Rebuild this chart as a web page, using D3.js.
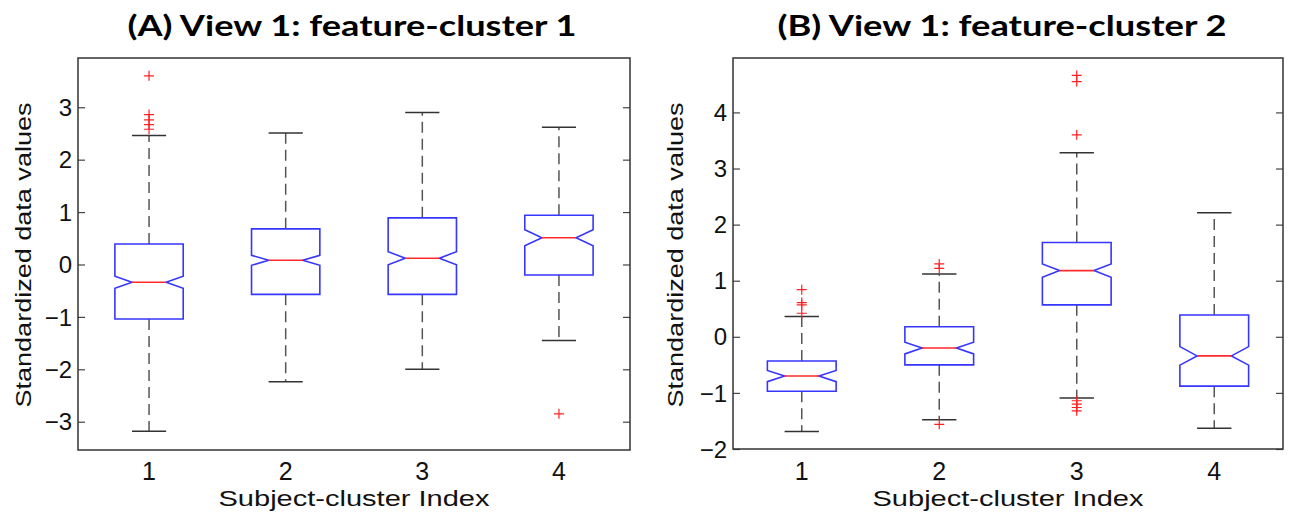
<!DOCTYPE html>
<html>
<head>
<meta charset="utf-8">
<script src="https://cdn.jsdelivr.net/npm/d3@7"></script>
<style>
  html, body { margin: 0; padding: 0; background: #fff; }
  svg { display: block; }
</style>
</head>
<body>
<svg id="chart" width="1290" height="517"></svg>
<script>
// Subject-cluster indices shared by both panels
const clusters = [1, 2, 3, 4];
const yTicksA = [-3, -2, -1, 0, 1, 2, 3];
const yTicksB = [-2, -1, 0, 1, 2, 3, 4];

// Panel A — feature-cluster 1 summary statistics
const lowerWhiskerA = [-3.18, -2.24, -2.00, -1.45];
const q1A = [-1.04, -0.57, -0.57, -0.20];
const medianA = [-0.34, 0.08, 0.12, 0.51];
const q3A = [0.39, 0.68, 0.89, 0.94];
const upperWhiskerA = [2.46, 2.51, 2.90, 2.62];
const notchA = [0.115, 0.095, 0.125, 0.155];
const outliersA = [[3.60, 2.86, 2.76, 2.67, 2.58], [], [], [-2.85]];

// Panel B — feature-cluster 2 summary statistics
const lowerWhiskerB = [-1.69, -1.48, -1.09, -1.63];
const q1B = [-0.97, -0.50, 0.57, -0.88];
const medianB = [-0.70, -0.20, 1.18, -0.34];
const q3B = [-0.43, 0.18, 1.68, 0.39];
const upperWhiskerB = [0.36, 1.12, 3.28, 2.21];
const notchB = [0.10, 0.105, 0.12, 0.165];
const outliersB = [[0.84, 0.61, 0.57, 0.42], [1.30, 1.22, -1.56], [4.66, 4.55, 3.60, -1.14, -1.20, -1.26, -1.32], []];

const titles = ["(A) View 1: feature-cluster 1", "(B) View 1: feature-cluster 2"];
const xLabel = "Subject-cluster Index";
const yLabel = "Standardized data values";

const svg = d3.select("#chart");
const TICK_FONT = "'Liberation Sans', Arial, sans-serif";

function buildRows(lo, q1, med, q3, hi, notch, outs) {
  return clusters.map((c, i) => ({
    c, lo: lo[i], q1: q1[i], med: med[i], q3: q3[i], hi: hi[i], notch: notch[i], outs: outs[i]
  }));
}

function drawPanel(p) {
  const g = svg.append("g");
  const x = d3.scaleLinear().domain(p.xDomain).range([p.left, p.right]);
  const y = d3.scaleLinear().domain(p.yDomain).range([p.bottom, p.top]);
  const halfW = 0.25;

  // y axes: labels on left, inward ticks on both sides
  const axL = d3.axisRight(y).tickValues(p.yTicks).tickSize(7).tickFormat("");
  g.append("g").attr("transform", `translate(${p.left},0)`).call(axL)
    .call(s => s.select(".domain").remove())
    .call(s => s.selectAll("line").attr("stroke", "#444").attr("stroke-width", 1.2));
  const axR = d3.axisLeft(y).tickValues(p.yTicks).tickSize(7).tickFormat("");
  g.append("g").attr("transform", `translate(${p.right},0)`).call(axR)
    .call(s => s.select(".domain").remove())
    .call(s => s.selectAll("line").attr("stroke", "#444").attr("stroke-width", 1.2));

  g.selectAll(".ytl").data(p.yTicks).join("text")
    .attr("x", p.left - 6).attr("y", d => y(d))
    .attr("dy", "0.36em").attr("text-anchor", "end")
    .attr("font-family", TICK_FONT).attr("font-size", 24).attr("fill", "#111")
    .text(d => d3.format("")(d));

  // x tick labels
  g.selectAll(".xtl").data(clusters).join("text")
    .attr("x", d => x(d)).attr("y", 480)
    .attr("text-anchor", "middle")
    .attr("font-family", TICK_FONT).attr("font-size", 25).attr("fill", "#111")
    .text(d => d);

  // frame
  g.append("rect").attr("x", p.left).attr("y", p.top)
    .attr("width", p.right - p.left).attr("height", p.bottom - p.top)
    .attr("fill", "none").attr("stroke", "#333").attr("stroke-width", 1.5);

  const boxes = g.selectAll(".box").data(p.rows).join("g");

  // dashed whiskers
  boxes.append("line")
    .attr("x1", d => x(d.c)).attr("x2", d => x(d.c))
    .attr("y1", d => y(d.q3)).attr("y2", d => y(d.hi))
    .attr("stroke", "#555").attr("stroke-width", 1.5).attr("stroke-dasharray", "11,6");
  boxes.append("line")
    .attr("x1", d => x(d.c)).attr("x2", d => x(d.c))
    .attr("y1", d => y(d.q1)).attr("y2", d => y(d.lo))
    .attr("stroke", "#555").attr("stroke-width", 1.5).attr("stroke-dasharray", "11,6");
  // whisker caps
  ["hi", "lo"].forEach(k => {
    boxes.append("line")
      .attr("x1", d => x(d.c - halfW / 2)).attr("x2", d => x(d.c + halfW / 2))
      .attr("y1", d => y(d[k])).attr("y2", d => y(d[k]))
      .attr("stroke", "#333").attr("stroke-width", 1.5);
  });

  // notched boxes
  boxes.append("path")
    .attr("d", d => {
      const l = x(d.c - halfW), r = x(d.c + halfW);
      const li = x(d.c - halfW / 2), ri = x(d.c + halfW / 2);
      const pts = [
        [l, y(d.q3)], [r, y(d.q3)], [r, y(d.med + d.notch)], [ri, y(d.med)],
        [r, y(d.med - d.notch)], [r, y(d.q1)], [l, y(d.q1)], [l, y(d.med - d.notch)],
        [li, y(d.med)], [l, y(d.med + d.notch)]
      ];
      return d3.line()(pts) + "Z";
    })
    .attr("fill", "none").attr("stroke", "#3636ff").attr("stroke-width", 1.6);

  // medians
  boxes.append("line")
    .attr("x1", d => x(d.c - halfW / 2)).attr("x2", d => x(d.c + halfW / 2))
    .attr("y1", d => y(d.med)).attr("y2", d => y(d.med))
    .attr("stroke", "#ff2a2a").attr("stroke-width", 1.6);

  // outliers as '+' markers
  const s = 5;
  boxes.selectAll(".out").data(d => d.outs.map(v => ({ c: d.c, v }))).join("path")
    .attr("d", o => {
      const cx = x(o.c), cy = y(o.v);
      return `M${cx - s},${cy}H${cx + s}M${cx},${cy - s}V${cy + s}`;
    })
    .attr("stroke", "#ff2020").attr("stroke-width", 1.2).attr("fill", "none");

  // titles and axis labels
  g.append("text").attr("x", p.titleX).attr("y", 36)
    .attr("text-anchor", "middle")
    .attr("font-family", "Lato, 'Open Sans', sans-serif").attr("font-weight", 700)
    .attr("font-size", 29).attr("fill", "#000")
    .attr("textLength", 449).attr("lengthAdjust", "spacingAndGlyphs")
    .text(p.title);

  g.append("text").attr("x", (p.left + p.right) / 2).attr("y", 506)
    .attr("text-anchor", "middle")
    .attr("font-family", TICK_FONT).attr("font-size", 22).attr("fill", "#111")
    .attr("textLength", 271).attr("lengthAdjust", "spacingAndGlyphs")
    .text(xLabel);

  g.append("text")
    .attr("transform", `translate(${p.yLabelX},255) rotate(-90)`)
    .attr("text-anchor", "middle")
    .attr("font-family", TICK_FONT).attr("font-size", 22).attr("fill", "#111")
    .attr("textLength", 305).attr("lengthAdjust", "spacingAndGlyphs")
    .text(yLabel);
}

drawPanel({
  left: 78, right: 630, top: 58, bottom: 450,
  xDomain: [0.48, 4.52], yDomain: [-3.54, 3.94], yTicks: yTicksA,
  rows: buildRows(lowerWhiskerA, q1A, medianA, q3A, upperWhiskerA, notchA, outliersA),
  title: titles[0], titleX: 352, yLabelX: 31
});

drawPanel({
  left: 733, right: 1283, top: 58, bottom: 449,
  xDomain: [0.5, 4.5], yDomain: [-2, 4.97], yTicks: yTicksB,
  rows: buildRows(lowerWhiskerB, q1B, medianB, q3B, upperWhiskerB, notchB, outliersB),
  title: titles[1], titleX: 1002, yLabelX: 683
});
</script>
</body>
</html>
